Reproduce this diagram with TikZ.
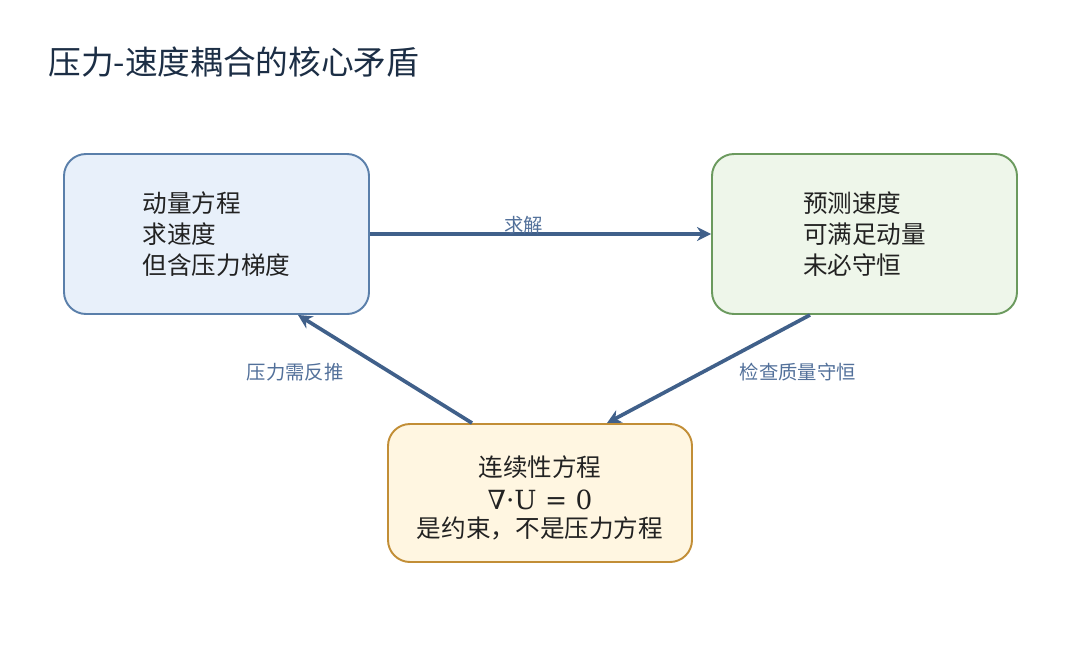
\documentclass[tikz,border=0pt]{standalone}
\usepackage{fontspec}
\setmainfont{Noto Sans CJK SC}
\newfontfamily\formfont{DejaVu Serif}
\usetikzlibrary{arrows.meta,positioning}
\definecolor{titlecol}{HTML}{1C2E45}
\definecolor{textcol}{HTML}{222222}
\definecolor{arrowcol}{HTML}{40608A}
\definecolor{labelcol}{HTML}{52709A}
\definecolor{momfill}{HTML}{E8F0FA}
\definecolor{momline}{HTML}{5A7FAA}
\definecolor{predfill}{HTML}{EEF6EA}
\definecolor{predline}{HTML}{6B9A5E}
\definecolor{contfill}{HTML}{FFF6E1}
\definecolor{contline}{HTML}{C28E36}
\tikzset{
  stagebox/.style={draw,line width=1.1pt,rounded corners=0.44cm,
    minimum width=6.1cm,minimum height=3.2cm,text=textcol,
    font=\fontsize{14}{17.6}\selectfont},
  flow/.style={draw=arrowcol,line width=2.1pt,-{Stealth[length=8pt,width=8pt]}},
  flowlabel/.style={text=labelcol,font=\fontsize{11}{13}\selectfont,inner sep=2pt}
}
\begin{document}
\begin{tikzpicture}
            \useasboundingbox (0,0) rectangle (21.6,-12.96);
            \node[anchor=west,text=titlecol,font=\fontsize{18.6}{22}\selectfont,inner sep=0pt] (title) at (0.96,-1.24) {压力-速度耦合的核心矛盾};

            \node[stagebox,fill=momfill,draw=momline,align=left] (mom) at (4.33,-4.68) {动量方程\\求速度\\但含压力梯度};
            \node[stagebox,fill=predfill,draw=predline,align=left] (pred) at (17.29,-4.68) {预测速度\\可满足动量\\未必守恒};
            \node[stagebox,fill=contfill,draw=contline,align=center,minimum width=6.08cm,minimum height=2.76cm] (cont) at (10.8,-9.86)
                {\rule{0pt}{17pt}连续性方程\\[1.5pt]{\formfont\fontsize{15}{17}\selectfont ∇·U = 0}\\[-2pt]是约束，不是压力方程};

            \draw[flow] (mom.east) -- (pred.west) node[flowlabel,pos=0.45,above=-3pt] (lsolve) {求解};
            \draw[flow] ([xshift=-1.09cm]pred.south) -- ([xshift=1.34cm]cont.north) node[flowlabel,midway,right=0.52cm,yshift=-2pt] (lcheck) {检查质量守恒};
            \draw[flow] ([xshift=-1.36cm]cont.north) -- ([xshift=1.63cm]mom.south) node[flowlabel,midway,left=0.72cm,yshift=-2pt] (lback) {压力需反推};
        \end{tikzpicture}
\end{document}
